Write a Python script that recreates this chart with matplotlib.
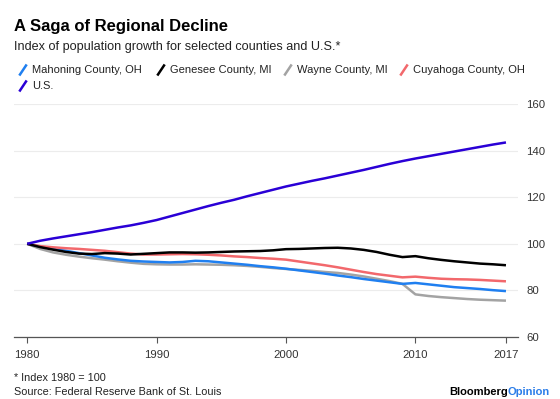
import matplotlib
matplotlib.use("Agg")
import matplotlib.pyplot as plt
from matplotlib.lines import Line2D
import numpy as np

plt.rcParams['font.family'] = ['Liberation Sans', 'DejaVu Sans']

W, H = 560, 399

years = list(range(1980, 2018))

mahoning = [100, 98.8, 97.8, 97.0, 96.0, 95.0, 94.0, 93.3, 92.7, 92.4,
            92.2, 92.0, 92.2, 92.7, 92.5, 92.0, 91.5, 91.0, 90.4, 89.9,
            89.3, 88.6, 87.9, 87.2, 86.4, 85.7, 84.9, 84.2, 83.5, 82.8,
            83.2, 82.6, 82.0, 81.4, 81.0, 80.6, 80.1, 79.7]
genesee = [100, 98.6, 97.5, 96.5, 95.8, 95.6, 96.0, 95.8, 95.4, 95.7,
           96.0, 96.3, 96.3, 96.2, 96.3, 96.5, 96.7, 96.8, 96.9, 97.2,
           97.7, 97.8, 98.0, 98.2, 98.3, 98.0, 97.4, 96.5, 95.3, 94.3,
           94.7, 93.8, 93.1, 92.5, 92.0, 91.5, 91.2, 90.8]
wayne = [100, 97.8, 96.3, 95.3, 94.5, 93.8, 93.2, 92.5, 91.9, 91.4,
         91.2, 91.1, 91.1, 91.2, 91.1, 91.0, 90.8, 90.5, 90.1, 89.6,
         89.2, 88.8, 88.4, 87.9, 87.5, 86.8, 86.0, 85.0, 84.0, 82.8,
         78.3, 77.6, 77.1, 76.7, 76.3, 76.0, 75.8, 75.6]
cuyahoga = [100, 99.0, 98.5, 98.1, 97.8, 97.4, 97.0, 96.4, 95.8, 95.4,
            95.4, 95.5, 95.6, 95.5, 95.3, 95.0, 94.6, 94.3, 93.9, 93.6,
            93.2, 92.4, 91.6, 90.8, 89.9, 88.9, 87.9, 87.0, 86.3, 85.6,
            85.9, 85.4, 85.0, 84.8, 84.7, 84.5, 84.2, 83.9]
us = [100, 101.3, 102.3, 103.2, 104.1, 105.0, 106.0, 107.0, 107.9, 109.0,
      110.2, 111.7, 113.2, 114.7, 116.2, 117.6, 118.9, 120.4, 121.8, 123.2,
      124.6, 125.8, 127.0, 128.1, 129.3, 130.5, 131.7, 133.0, 134.3, 135.5,
      136.6, 137.6, 138.6, 139.6, 140.6, 141.6, 142.6, 143.5]

series_names = ["Mahoning County, OH", "Genesee County, MI", "Wayne County, MI",
                "Cuyahoga County, OH", "U.S."]
colors = {"Mahoning County, OH": "#1f7ff0", "Genesee County, MI": "#000000",
          "Wayne County, MI": "#a3a3a3", "Cuyahoga County, OH": "#f2686c",
          "U.S.": "#2a00d6"}
data = {"Mahoning County, OH": mahoning, "Genesee County, MI": genesee,
        "Wayne County, MI": wayne, "Cuyahoga County, OH": cuyahoga, "U.S.": us}

xticks = [1980, 1990, 2000, 2010, 2017]
yticks = [60, 80, 100, 120, 140, 160]


def fx(x):
    return x / W


def fy(y):
    return 1 - y / H


fig = plt.figure(figsize=(W / 100, H / 100), dpi=100)
ax = fig.add_axes([fx(14), fy(337), fx(518) - fx(14), fy(104) - fy(337)])

draw_order = ["Wayne County, MI", "Mahoning County, OH", "Cuyahoga County, OH",
              "Genesee County, MI", "U.S."]
for name in draw_order:
    ax.plot(years, data[name], color=colors[name], lw=1.8,
            solid_capstyle='butt', zorder=3)

ax.set_xlim(1978.98, 2017.93)
ax.set_ylim(60, 160)
ax.set_xticks(xticks)
ax.set_yticks(yticks)
ax.yaxis.tick_right()
ax.tick_params(axis='y', length=0, pad=6, labelsize=8.2, labelcolor='#333333')
ax.tick_params(axis='x', length=4, width=0.8, color='#555555', pad=5,
               labelsize=8.2, labelcolor='#333333')
ax.grid(axis='y', color='#ececec', lw=0.8, zorder=0)
for s in ['top', 'left', 'right']:
    ax.spines[s].set_visible(False)
ax.spines['bottom'].set_color('#555555')
ax.spines['bottom'].set_linewidth(0.9)

# header
fig.text(fx(14), fy(31), "A Saga of Regional Decline", fontsize=12,
         fontweight='bold', va='baseline', ha='left')
fig.text(fx(14), fy(50), "Index of population growth for selected counties and U.S.*",
         fontsize=9.1, va='baseline', ha='left', color='#222222')

# legend
leg_pos = [(20, 70), (158, 70), (285, 70), (401, 70), (20, 86)]
for name, (lx, ly) in zip(series_names, leg_pos):
    fig.add_artist(Line2D([fx(lx), fx(lx + 6)], [fy(ly + 4.5), fy(ly - 4.5)],
                          color=colors[name], lw=1.8, transform=fig.transFigure))
    fig.text(fx(lx + 12), fy(ly), name, fontsize=8, va='center', ha='left',
             color='#222222')

# footer
fig.text(fx(14), fy(378), "* Index 1980 = 100", fontsize=7.8, va='center',
         ha='left', color='#222222')
fig.text(fx(14), fy(392), "Source: Federal Reserve Bank of St. Louis",
         fontsize=7.8, va='center', ha='left', color='#222222')

t_op = fig.text(fx(550), fy(392), "Opinion", fontsize=8, fontweight='bold',
                va='center', ha='right', color='#2b7de9')
r = fig.canvas.get_renderer()
bb = t_op.get_window_extent(renderer=r)
fig.text(bb.x0 / W, fy(392), "Bloomberg", fontsize=8, fontweight='bold',
         va='center', ha='right', color='#000000')

fig.savefig("out.png", dpi=100)
